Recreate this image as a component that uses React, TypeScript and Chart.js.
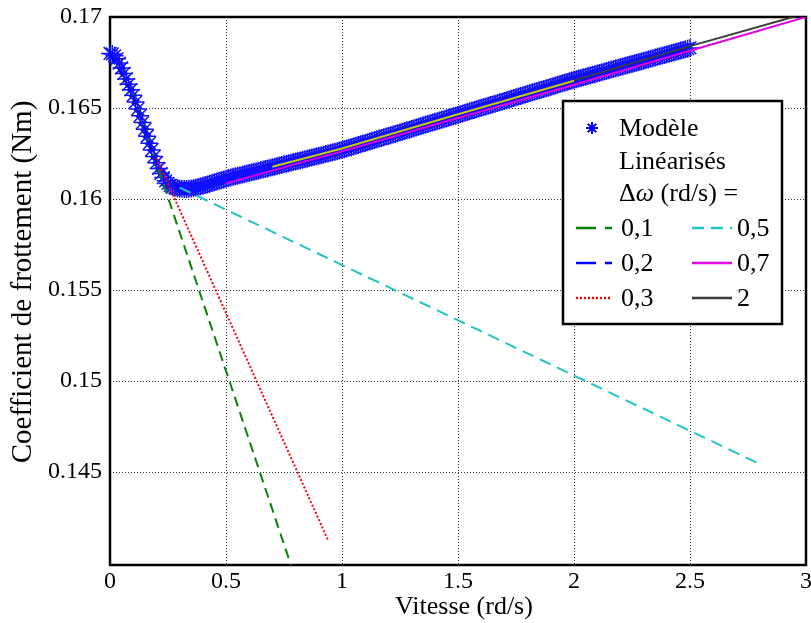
import React, { useEffect, useRef } from 'react';
import { Chart, registerables } from 'chart.js';

Chart.register(...registerables);

// ---------- data ----------
const xTicks = [0, 0.5, 1, 1.5, 2, 2.5, 3];
const xTickLabels = ['0', '0.5', '1', '1.5', '2', '2.5', '3'];
const yTicks = [0.145, 0.15, 0.155, 0.16, 0.165, 0.17];
const yTickLabels = ['0.145', '0.15', '0.155', '0.16', '0.165', '0.17'];

const modelX = [
  0.00, 0.01, 0.02, 0.03, 0.04, 0.05, 0.06, 0.07, 0.08, 0.09,
  0.10, 0.11, 0.12, 0.13, 0.14, 0.15, 0.16, 0.17, 0.18, 0.19,
  0.20, 0.21, 0.22, 0.23, 0.24, 0.25, 0.26, 0.27, 0.28, 0.29,
  0.30, 0.31, 0.32, 0.33, 0.34, 0.35, 0.36, 0.37, 0.38, 0.39,
  0.40, 0.41, 0.42, 0.43, 0.44, 0.45, 0.46, 0.47, 0.48, 0.49,
  0.50, 0.51, 0.52, 0.53, 0.54, 0.55, 0.56, 0.57, 0.58, 0.59,
  0.60, 0.61, 0.62, 0.63, 0.64, 0.65, 0.66, 0.67, 0.68, 0.69,
  0.70, 0.71, 0.72, 0.73, 0.74, 0.75, 0.76, 0.77, 0.78, 0.79,
  0.80, 0.81, 0.82, 0.83, 0.84, 0.85, 0.86, 0.87, 0.88, 0.89,
  0.90, 0.91, 0.92, 0.93, 0.94, 0.95, 0.96, 0.97, 0.98, 0.99,
  1.00, 1.01, 1.02, 1.03, 1.04, 1.05, 1.06, 1.07, 1.08, 1.09,
  1.10, 1.11, 1.12, 1.13, 1.14, 1.15, 1.16, 1.17, 1.18, 1.19,
  1.20, 1.21, 1.22, 1.23, 1.24, 1.25, 1.26, 1.27, 1.28, 1.29,
  1.30, 1.31, 1.32, 1.33, 1.34, 1.35, 1.36, 1.37, 1.38, 1.39,
  1.40, 1.41, 1.42, 1.43, 1.44, 1.45, 1.46, 1.47, 1.48, 1.49,
  1.50, 1.51, 1.52, 1.53, 1.54, 1.55, 1.56, 1.57, 1.58, 1.59,
  1.60, 1.61, 1.62, 1.63, 1.64, 1.65, 1.66, 1.67, 1.68, 1.69,
  1.70, 1.71, 1.72, 1.73, 1.74, 1.75, 1.76, 1.77, 1.78, 1.79,
  1.80, 1.81, 1.82, 1.83, 1.84, 1.85, 1.86, 1.87, 1.88, 1.89,
  1.90, 1.91, 1.92, 1.93, 1.94, 1.95, 1.96, 1.97, 1.98, 1.99,
  2.00, 2.01, 2.02, 2.03, 2.04, 2.05, 2.06, 2.07, 2.08, 2.09,
  2.10, 2.11, 2.12, 2.13, 2.14, 2.15, 2.16, 2.17, 2.18, 2.19,
  2.20, 2.21, 2.22, 2.23, 2.24, 2.25, 2.26, 2.27, 2.28, 2.29,
  2.30, 2.31, 2.32, 2.33, 2.34, 2.35, 2.36, 2.37, 2.38, 2.39,
  2.40, 2.41, 2.42, 2.43, 2.44, 2.45, 2.46, 2.47, 2.48, 2.49,
  2.50,
];
const modelY = [
  0.16800, 0.16797, 0.16787, 0.16770, 0.16747, 0.16720, 0.16690, 0.16660, 0.16630, 0.16600,
  0.16570, 0.16533, 0.16495, 0.16458, 0.16420, 0.16383, 0.16345, 0.16307, 0.16270, 0.16234,
  0.16200, 0.16168, 0.16140, 0.16118, 0.16100, 0.16086, 0.16075, 0.16068, 0.16062, 0.16059,
  0.16057, 0.16056, 0.16055, 0.16055, 0.16056, 0.16058, 0.16060, 0.16063, 0.16066, 0.16069,
  0.16073, 0.16077, 0.16080, 0.16084, 0.16088, 0.16092, 0.16096, 0.16100, 0.16104, 0.16108,
  0.16112, 0.16115, 0.16118, 0.16122, 0.16125, 0.16128, 0.16131, 0.16134, 0.16137, 0.16140,
  0.16143, 0.16147, 0.16150, 0.16153, 0.16156, 0.16159, 0.16162, 0.16165, 0.16168, 0.16172,
  0.16175, 0.16178, 0.16181, 0.16184, 0.16187, 0.16191, 0.16194, 0.16197, 0.16200, 0.16203,
  0.16206, 0.16209, 0.16212, 0.16216, 0.16219, 0.16222, 0.16225, 0.16228, 0.16231, 0.16235,
  0.16238, 0.16241, 0.16244, 0.16247, 0.16250, 0.16254, 0.16257, 0.16260, 0.16263, 0.16267,
  0.16270, 0.16274, 0.16278, 0.16282, 0.16285, 0.16289, 0.16293, 0.16297, 0.16301, 0.16305,
  0.16308, 0.16312, 0.16316, 0.16320, 0.16324, 0.16328, 0.16332, 0.16335, 0.16339, 0.16343,
  0.16347, 0.16351, 0.16355, 0.16358, 0.16362, 0.16366, 0.16370, 0.16374, 0.16378, 0.16381,
  0.16385, 0.16389, 0.16393, 0.16397, 0.16401, 0.16405, 0.16409, 0.16412, 0.16416, 0.16420,
  0.16424, 0.16428, 0.16432, 0.16435, 0.16439, 0.16443, 0.16447, 0.16451, 0.16455, 0.16458,
  0.16462, 0.16466, 0.16470, 0.16474, 0.16478, 0.16482, 0.16486, 0.16489, 0.16493, 0.16497,
  0.16501, 0.16505, 0.16509, 0.16512, 0.16516, 0.16520, 0.16524, 0.16528, 0.16532, 0.16535,
  0.16539, 0.16543, 0.16547, 0.16551, 0.16555, 0.16559, 0.16563, 0.16566, 0.16570, 0.16574,
  0.16578, 0.16582, 0.16586, 0.16589, 0.16593, 0.16597, 0.16601, 0.16605, 0.16609, 0.16612,
  0.16616, 0.16620, 0.16624, 0.16628, 0.16632, 0.16636, 0.16640, 0.16643, 0.16647, 0.16651,
  0.16655, 0.16658, 0.16662, 0.16665, 0.16669, 0.16672, 0.16676, 0.16679, 0.16683, 0.16686,
  0.16690, 0.16693, 0.16697, 0.16700, 0.16704, 0.16707, 0.16711, 0.16714, 0.16718, 0.16721,
  0.16725, 0.16728, 0.16732, 0.16735, 0.16739, 0.16742, 0.16746, 0.16749, 0.16753, 0.16756,
  0.16760, 0.16763, 0.16767, 0.16770, 0.16774, 0.16777, 0.16781, 0.16784, 0.16788, 0.16791,
  0.16795, 0.16798, 0.16802, 0.16805, 0.16809, 0.16812, 0.16816, 0.16819, 0.16823, 0.16826,
  0.16830,
];

// linearised models (Δω = 0,1 / 0,2 / 0,3 / 0,5 / 0,7 / 2)
const lin01X = [0.1, 0.8];
const lin01Y = [0.1658, 0.13913];
const lin02X = [0.0, 0.1, 0.2, 0.3];
const lin02Y = [0.1680, 0.1657, 0.1620, 0.16057];
const lin03X = [0.2, 0.94];
const lin03Y = [0.16225, 0.14126];
const lin05X = [0.3, 2.79];
const lin05Y = [0.16063, 0.14551];
const lin07X = [0.5, 1.0, 1.5, 2.0, 2.5, 3.0];
const lin07Y = [0.16086, 0.16262, 0.16445, 0.16628, 0.16815, 0.17000];
const lin1X = [0.7, 1.0, 1.5, 2.0];
const lin1Y = [0.16177, 0.16278, 0.16466, 0.16650];
const lin2X = [2.0, 2.5, 3.0];
const lin2Y = [0.16652, 0.16840, 0.17020];

const modelLabel = 'Modèle';
const legendHeading = ['Linéarisés'];
const seriesLabels = ['0,1', '0,2', '0,3', '0,5', '0,7', '2'];
const xTitle = 'Vitesse (rd/s)';
const yTitle = 'Coefficient de frottement (Nm)';

// ---------- styles ----------
const FONT = '"Liberation Serif", "Times New Roman", serif';
const seriesStyles = [
  { color: '#0a820a', dash: [10, 6], legendDash: [20, 9] },
  { color: '#0000ff', dash: [10, 6], legendDash: [20, 9] },
  { color: '#ff0000', dash: [2, 2], legendDash: [2, 2] },
  { color: '#22c4c4', dash: [12, 7], legendDash: [12, 7] },
  { color: '#e000e0', dash: [], legendDash: [] },
  { color: '#3c3c3c', dash: [], legendDash: [] },
];
const extraStyle = { color: '#c8c800' };

const pts = (xs: number[], ys: number[]) => xs.map((x, i) => ({ x, y: ys[i] }));

const findLabel = (vals: number[], labels: string[], v: number) => {
  const i = vals.findIndex((t) => Math.abs(t - v) < 1e-9);
  return i >= 0 ? labels[i] : '';
};

function drawAsterisk(ctx: CanvasRenderingContext2D, x: number, y: number, r: number, color: string) {
  ctx.save();
  ctx.strokeStyle = color;
  ctx.lineWidth = 2;
  ctx.beginPath();
  const d = r * Math.SQRT1_2;
  ctx.moveTo(x - r, y); ctx.lineTo(x + r, y);
  ctx.moveTo(x, y - r); ctx.lineTo(x, y + r);
  ctx.moveTo(x - d, y - d); ctx.lineTo(x + d, y + d);
  ctx.moveTo(x - d, y + d); ctx.lineTo(x + d, y - d);
  ctx.stroke();
  ctx.restore();
}

const framePlugin = {
  id: 'matlabFrame',
  beforeDatasetsDraw(chart: any) {
    const { ctx, chartArea } = chart;
    const { left, top, right, bottom } = chartArea;
    ctx.save();
    ctx.strokeStyle = '#000';
    ctx.lineWidth = 2.5;
    ctx.strokeRect(left, top, right - left, bottom - top);
    ctx.restore();
  },
  afterDraw(chart: any) {
    const ctx: CanvasRenderingContext2D = chart.ctx;
    const { left, top, right, bottom } = chart.chartArea;
    ctx.save();

    // axis titles
    ctx.fillStyle = '#000';
    ctx.textAlign = 'center';
    ctx.textBaseline = 'alphabetic';
    ctx.font = `26px ${FONT}`;
    ctx.fillText(xTitle, (left + right) / 2 + 6, 614);
    ctx.save();
    ctx.translate(31, (top + bottom) / 2 - 9);
    ctx.rotate(-Math.PI / 2);
    ctx.font = `29px ${FONT}`;
    ctx.fillText(yTitle, 0, 0);
    ctx.restore();

    // legend box
    const bx = 563, by = 101, bw = 219, bh = 223;
    ctx.fillStyle = '#fff';
    ctx.fillRect(bx, by, bw, bh);
    ctx.strokeStyle = '#000';
    ctx.lineWidth = 2.5;
    ctx.strokeRect(bx, by, bw, bh);

    drawAsterisk(ctx, 592, 128, 6, '#0000ff');

    ctx.fillStyle = '#000';
    ctx.textBaseline = 'middle';
    ctx.textAlign = 'left';
    ctx.font = `26px ${FONT}`;
    ctx.fillText(modelLabel, 619, 129);
    ctx.fillText(legendHeading[0], 619, 162);
    // Δω (rd/s) =
    let tx = 619;
    const ty = 194;
    ctx.fillText('Δ', tx, ty);
    tx += ctx.measureText('Δ').width;
    ctx.font = `italic 26px ${FONT}`;
    ctx.fillText('ω', tx, ty);
    tx += ctx.measureText('ω').width;
    ctx.font = `26px ${FONT}`;
    ctx.fillText(' (rd/s) =', tx, ty);

    const rows = [228, 263, 298];
    seriesLabels.forEach((lab, i) => {
      const col = i < 3 ? 0 : 1;
      const y = rows[i % 3];
      const x0 = col ? 692 : 576;
      const x1 = col ? 732 : 612;
      const st = seriesStyles[i];
      ctx.save();
      ctx.strokeStyle = st.color;
      ctx.lineWidth = 2.5;
      ctx.setLineDash(st.legendDash);
      ctx.beginPath();
      ctx.moveTo(x0, y);
      ctx.lineTo(x1, y);
      ctx.stroke();
      ctx.restore();
      ctx.fillStyle = '#000';
      ctx.font = `26px ${FONT}`;
      ctx.fillText(lab, col ? 737 : 621, y + 1);
    });
    ctx.restore();
  },
};

export default function App() {
  const ref = useRef<HTMLCanvasElement | null>(null);

  useEffect(() => {
    if (!ref.current) return;
    const lineDs = (data: any[], i: number, order: number) => ({
      label: seriesLabels[i],
      data,
      borderColor: seriesStyles[i].color,
      backgroundColor: seriesStyles[i].color,
      borderWidth: 2,
      borderDash: seriesStyles[i].dash,
      borderCapStyle: 'butt',
      pointRadius: 0,
      showLine: true,
      fill: false,
      tension: 0,
      order,
    });

    const chart = new Chart(ref.current, {
      type: 'line',
      data: {
        datasets: [
          {
            label: modelLabel,
            data: pts(modelX, modelY),
            showLine: false,
            pointStyle: 'star',
            pointRadius: 9,
            pointBorderWidth: 1.5,
            pointBorderColor: '#1010ff',
            pointBackgroundColor: '#1010ff',
            borderColor: '#1010ff',
            clip: false,
            order: 10,
          } as any,
          lineDs(pts(lin01X, lin01Y), 0, 7),
          lineDs(pts(lin02X, lin02Y), 1, 6),
          lineDs(pts(lin03X, lin03Y), 2, 5),
          lineDs(pts(lin05X, lin05Y), 3, 4),
          lineDs(pts(lin07X, lin07Y), 4, 3),
          {
            label: '1',
            data: pts(lin1X, lin1Y),
            borderColor: extraStyle.color,
            borderWidth: 2,
            pointRadius: 0,
            showLine: true,
            fill: false,
            order: 2,
          },
          lineDs(pts(lin2X, lin2Y), 5, 1),
        ] as any,
      },
      options: {
        responsive: false,
        animation: false,
        devicePixelRatio: 1,
        layout: { autoPadding: false, padding: { left: 0, top: 17, right: 5, bottom: 0 } },
        plugins: { legend: { display: false }, tooltip: { enabled: false } },
        scales: {
          x: {
            type: 'linear',
            min: 0,
            max: 3,
            afterBuildTicks: (s: any) => {
              s.ticks = xTicks.map((v) => ({ value: v }));
            },
            afterFit: (s: any) => {
              s.height = 58;
              s.paddingLeft = 0;
              s.paddingRight = 0;
            },
            ticks: {
              callback: (v: any) => findLabel(xTicks, xTickLabels, Number(v)),
              font: { family: FONT, size: 24 },
              color: '#000',
              padding: 2,
              maxRotation: 0,
              autoSkip: false,
            },
            grid: { color: '#333', lineWidth: 1, drawTicks: false },
            border: { display: false, dash: [1, 2] },
            title: { display: false },
          },
          y: {
            type: 'linear',
            min: 0.1399,
            max: 0.17,
            afterBuildTicks: (s: any) => {
              s.ticks = yTicks.map((v) => ({ value: v }));
            },
            afterFit: (s: any) => {
              s.width = 110;
              s.paddingTop = 0;
              s.paddingBottom = 0;
            },
            ticks: {
              callback: (v: any) => findLabel(yTicks, yTickLabels, Number(v)),
              font: { family: FONT, size: 24 },
              color: '#000',
              padding: 8,
              autoSkip: false,
            },
            grid: { color: '#333', lineWidth: 1, drawTicks: false },
            border: { display: false, dash: [1, 2] },
            title: { display: false },
          },
        },
      } as any,
      plugins: [framePlugin],
    });
    return () => chart.destroy();
  }, []);

  return (
    <div style={{ position: 'absolute', left: 0, top: 0, width: 811, height: 623, background: '#fff' }}>
      <canvas ref={ref} width={811} height={623} />
    </div>
  );
}
